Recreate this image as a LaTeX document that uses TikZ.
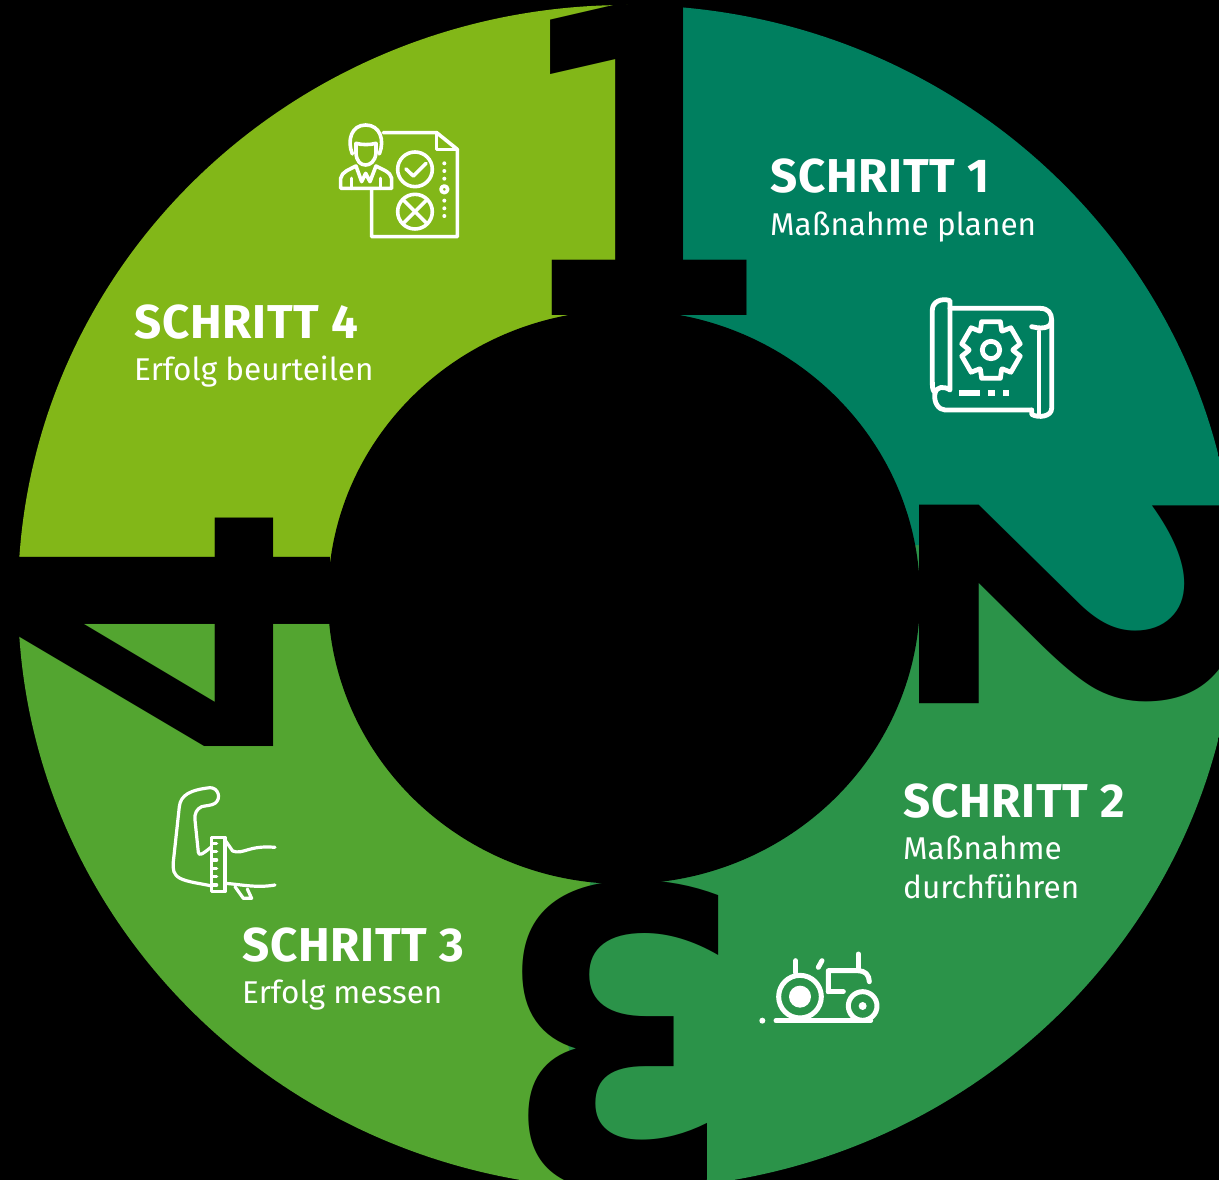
\documentclass[tikz,border=0pt]{standalone}
\usepackage{fontspec}
\usepackage{graphicx}
\setmainfont{Fira Sans}
\newfontfamily\digitfont{DejaVu Sans}
\definecolor{sectorA}{HTML}{007F5F}
\definecolor{sectorB}{HTML}{2B9349}
\definecolor{sectorC}{HTML}{53A530}
\definecolor{sectorD}{HTML}{82B718}
\tikzstyle{head} = [anchor=base west, inner sep=0pt, text=white, font=\fontsize{47.5}{47.5}\selectfont\bfseries\addfontfeature{LetterSpace=1.5}]
\tikzstyle{sub} = [anchor=base west, inner sep=0pt, text=white, align=left, font=\fontsize{31.5}{39}\selectfont]
\tikzstyle{digit} = [inner sep=0pt, text=black, font=\digitfont\bfseries]
\tikzstyle{iconline} = [draw=white, line width=3.6pt, line cap=round, line join=round]

\begin{document}
\begin{tikzpicture}[x=1pt, y=-1pt]
    \useasboundingbox (0,0) rectangle (1219,1180);
    \fill[black] (0,0) rectangle (1219,1180);

    % ring
    \begin{scope}
        \clip (627,597) ellipse [x radius=609, y radius=592];
        \fill[sectorD] (0,0) rectangle (650,585);
        \fill[sectorC] (0,585) rectangle (590,1200);
        \fill[sectorB] (590,500) rectangle (1300,1200);
        \fill[sectorB] (600,880) -- (550,970) -- (570,1053) -- (560,1120) -- (590,1200) -- (700,1200) -- (700,880) -- cycle;
        \fill[sectorA] (650,0) -- (1300,0) -- (1300,620) -- (1225,650) -- (1170,668) -- (1100,650) -- (960,545) -- (650,545) -- cycle;
    \end{scope}
    \fill[black] (624,597) ellipse [x radius=296, y radius=287];

    % digits
    \node[digit] (one) at (640,160) {\resizebox{265pt}{310pt}{1}};
    \node[digit, rotate=-90] (two) at (1080,606) {\resizebox{260pt}{320pt}{2}};
    \node[digit, rotate=180] (three) at (618,1037) {\resizebox{248pt}{306pt}{3}};
    \node[digit, rotate=90] (four) at (174,632) {\resizebox{262pt}{312pt}{4}};

    % labels
    \node[head] (stepA) at (770,193) {SCHRITT 1};
    \node[sub] (textA) at (770,236) {Maßnahme planen};
    \node[head] (stepB) at (903,817) {SCHRITT 2};
    \node[sub] (textB) at (903,898) {Maßnahme\\durchführen};
    \node[head] (stepC) at (242,961) {SCHRITT 3};
    \node[sub] (textC) at (242,1003) {Erfolg messen};
    \node[head] (stepD) at (134,338) {SCHRITT 4};
    \node[sub] (textD) at (134,380) {Erfolg beurteilen};

    % checklist icon
    \begin{scope}[shift={(320,110)}, x=0.3333pt, y=-0.3333pt]
        \draw[iconline] (190,68) -- (350,68) -- (412,118) -- (412,380) -- (155,380) -- (155,240);
        \draw[iconline] (350,68) -- (350,118) -- (412,118);
        \draw[iconline] (97,132) .. controls (80,90) and (95,45) .. (137,45) .. controls (180,45) and (195,90) .. (178,132);
        \draw[iconline] (108,100) .. controls (125,105) and (150,105) .. (168,100) -- (168,130) .. controls (165,155) and (150,165) .. (137,165) .. controls (122,165) and (110,155) .. (108,130) -- cycle;
        \draw[iconline] (62,235) -- (62,205) .. controls (65,185) and (90,178) .. (108,168) -- (125,215) -- (137,190) -- (150,215) -- (168,168) .. controls (185,178) and (212,185) .. (215,205) -- (215,235) -- cycle;
        \draw[iconline] (95,205) -- (95,235);
        \draw[iconline] (182,205) -- (182,235);
        \draw[iconline] (285,178) circle (52);
        \draw[iconline] (258,177) -- (280,198) -- (318,160);
        \draw[iconline] (285,305) circle (52);
        \draw[iconline] (250,270) -- (320,340);
        \draw[iconline] (320,270) -- (250,340);
        \foreach \dotY in {160,183,206,272,295,318}{
            \fill[white] (373,\dotY) circle (6);
        }
        \draw[iconline] (373,238) circle (10);
    \end{scope}

    % plan icon
    \begin{scope}[shift={(915,285)}, x=0.3333pt, y=-0.3333pt]
        \tikzstyle{planline} = [iconline, line width=4.8pt]
        \draw[planline] (60,325) .. controls (50,310) and (52,300) .. (52,290) -- (52,75) .. controls (52,50) and (80,38) .. (105,47) -- (105,315) .. controls (85,302) and (65,305) .. (60,325) .. controls (55,350) and (70,375) .. (90,375) -- (350,375);
        \draw[planline] (105,70) -- (375,70) .. controls (400,70) and (410,85) .. (410,105) .. controls (410,125) and (390,135) .. (350,125);
        \draw[planline] (372,140) -- (372,385);
        \draw[planline] (410,105) -- (410,370) .. controls (410,395) and (370,400) .. (350,388) -- (350,375);
        \foreach \toothA in {0,60,...,300}{
            \draw[planline, shift={(228,195)}, rotate=\toothA] (-32,58) -- (-28,85) -- (28,85) -- (32,58);
        }
        \draw[planline] (228,195) circle (26);
        \fill[white] (133,316) rectangle (196,334);
        \fill[white] (220,316) rectangle (240,334);
        \fill[white] (263,316) rectangle (283,334);
    \end{scope}

    % tractor icon
    \begin{scope}[shift={(750,940)}, x=0.3333pt, y=-0.3333pt]
        \tikzstyle{tractorline} = [iconline, line width=5pt]
        \draw[tractorline] (150,170) circle (64);
        \fill[white] (150,170) circle (33);
        \draw[tractorline] (338,198) circle (43);
        \fill[white] (338,198) circle (12);
        \draw[tractorline] (78,242) -- (362,242);
        \fill[white] (37,242) circle (9);
        \draw[tractorline] (137,62) -- (137,98);
        \draw[tractorline] (216,62) -- (205,82);
        \draw[tractorline] (235,155) -- (235,92) -- (325,92) .. controls (345,92) and (358,105) .. (358,125);
        \draw[tractorline] (325,42) -- (325,92);
        \draw[tractorline] (235,155) -- (280,155);
    \end{scope}

    % arm icon
    \begin{scope}[shift={(160,775)}, x=0.3333pt, y=-0.3333pt]
        \tikzstyle{armline} = [iconline, line width=3.2pt]
        \draw[armline] (155,333) .. controls (120,325) and (85,322) .. (60,310) .. controls (40,298) and (38,285) .. (40,260) -- (58,95) .. controls (62,60) and (90,45) .. (150,38) .. controls (175,38) and (185,70) .. (165,85) .. controls (155,92) and (135,92) .. (125,95) .. controls (110,102) and (103,115) .. (105,135) -- (115,232) .. controls (117,243) and (125,240) .. (155,215);
        \draw[armline] (155,187) rectangle (195,350);
        \foreach \tickY in {205,230,255,280,305,330}{
            \draw[armline] (155,\tickY) -- (170,\tickY);
        }
        \draw[armline] (195,195) -- (218,228) .. controls (250,240) and (265,210) .. (345,217);
        \draw[armline] (195,325) .. controls (240,328) and (290,340) .. (345,330);
        \draw[armline] (225,335) -- (250,370) -- (275,370) -- (262,342);
    \end{scope}
\end{tikzpicture}
\end{document}
